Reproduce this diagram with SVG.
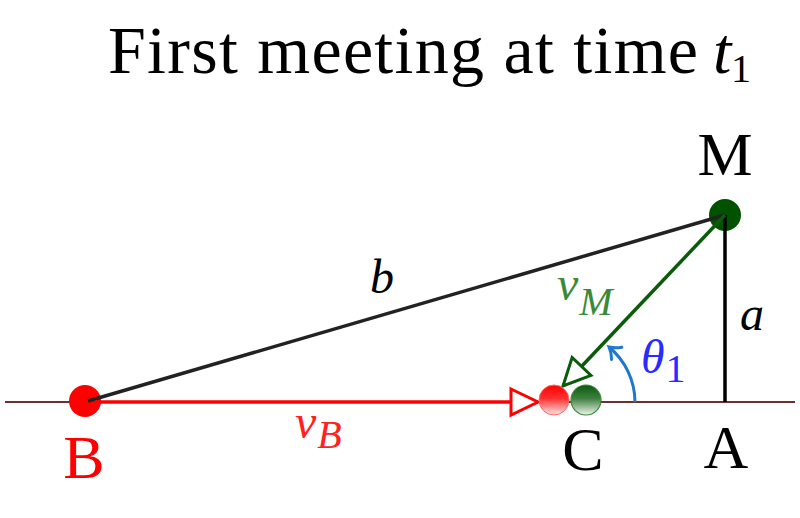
<svg xmlns="http://www.w3.org/2000/svg" width="800" height="518" viewBox="0 0 800 518">
<style>
.lbl{font-family:"Liberation Serif","Times New Roman",serif;font-size:62px;text-anchor:middle}
.math{font-family:"Liberation Serif","Times New Roman",serif;font-style:italic;font-size:48px}
.sub{font-size:40px}
.up{font-style:normal}
</style>
<defs>
<linearGradient id="gRed" x1="0" y1="0" x2="0" y2="1">
<stop offset="0" stop-color="#ff0000"/><stop offset="0.45" stop-color="#ff3030"/><stop offset="1" stop-color="#ffe6e6"/>
</linearGradient>
<linearGradient id="gGreen" x1="0" y1="0" x2="0" y2="1">
<stop offset="0" stop-color="#0b5a0b"/><stop offset="0.45" stop-color="#3f7f3f"/><stop offset="1" stop-color="#eef5ee"/>
</linearGradient>
<marker id="triRed" markerUnits="userSpaceOnUse" markerWidth="34" markerHeight="34" refX="29" refY="15" orient="auto" viewBox="0 0 34 30">
<path d="M2,2 L29,15 L2,28 Z" fill="#fff" stroke="#ff0000" stroke-width="3" stroke-linejoin="miter"/>
</marker>
<marker id="triGreen" markerUnits="userSpaceOnUse" markerWidth="34" markerHeight="34" refX="29" refY="15" orient="auto" viewBox="0 0 34 30">
<path d="M2,2 L29,15 L2,28 Z" fill="#fff" stroke="#0a5c0a" stroke-width="3" stroke-linejoin="miter"/>
</marker>
<marker id="arcHead" markerUnits="userSpaceOnUse" markerWidth="20" markerHeight="20" refX="14" refY="10" orient="auto" viewBox="0 0 20 20">
<path d="M4,2 Q8,7 14,10 Q8,13 4,18" fill="none" stroke="#1f77d0" stroke-width="3" stroke-linecap="round"/>
</marker>
</defs>
<rect width="800" height="518" fill="#fff"/>
<g id="title" font-family="Liberation Serif,Times New Roman,serif">
<text x="108" y="73" font-size="68" textLength="590" lengthAdjust="spacing">First meeting at time</text>
<text x="713" y="73" font-size="66" font-style="italic">t</text>
<text x="731" y="82" font-size="40">1</text>
</g>
<line x1="5" y1="402" x2="795" y2="402" stroke="#6b3030" stroke-width="2"/>
<g id="node-B"><circle cx="85" cy="401" r="16" fill="#ff0000"/><text class="lbl" x="84" y="478" fill="#ff0000">B</text></g>
<g id="node-M"><circle cx="725" cy="215" r="16" fill="#005200"/><text class="lbl" x="725" y="175">M</text></g>
<g id="node-A"><text class="lbl" x="726" y="468">A</text></g>
<g id="connectors">
<line id="edge-b" x1="88" y1="401" x2="725" y2="215" stroke="#222" stroke-width="3.5"/>
<line id="edge-a" x1="725" y1="215" x2="725" y2="402" stroke="#000" stroke-width="3.5"/>
<line id="edge-vB" x1="95" y1="402" x2="538" y2="402" stroke="#ff0000" stroke-width="3.5" marker-end="url(#triRed)"/>
<line id="edge-vM" x1="725" y1="215" x2="563" y2="386" stroke="#0a5c0a" stroke-width="3.5" marker-end="url(#triGreen)"/>
<path id="arc-theta" d="M635,402 A72,72 0 0 0 609,347" fill="none" stroke="#1f77d0" stroke-width="3" marker-end="url(#arcHead)"/>
</g>
<g id="node-C">
<circle cx="586" cy="400" r="15" fill="url(#gGreen)" stroke="#3a8a3a" stroke-width="1.2"/>
<circle cx="554" cy="400" r="15" fill="url(#gRed)" stroke="#ff6666" stroke-width="1"/>
<text class="lbl" x="583" y="470">C</text>
</g>
<text class="math" x="370" y="293" fill="#000">b</text>
<text class="math" x="740" y="330" fill="#000">a</text>
<text class="math" x="557" y="300" fill="#3a8a3a">v<tspan class="sub" dx="1" dy="15">M</tspan></text>
<text class="math" x="295" y="438" fill="#ff2020">v<tspan class="sub" dx="1" dy="10">B</tspan></text>
<text class="math" x="641" y="373" fill="#2a2aff">θ<tspan class="sub up" dx="1" dy="9">1</tspan></text>
</svg>
